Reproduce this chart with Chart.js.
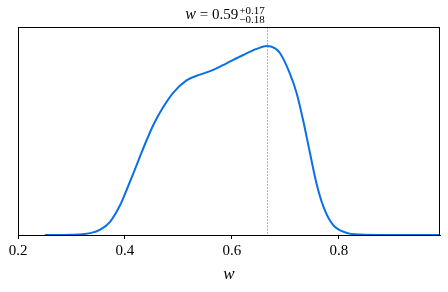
<!DOCTYPE html>
<html><head><meta charset="utf-8">
<script src="https://cdn.jsdelivr.net/npm/chart.js@4/dist/chart.umd.min.js"></script>
<style>html,body{margin:0;padding:0;background:#fff}#wrap{width:448px;height:292px}</style>
</head><body><div id="wrap"><canvas id="c" width="448" height="292"></canvas></div>
<script>
const wValues = [0.25, 0.28, 0.30, 0.32, 0.335, 0.353, 0.372, 0.391, 0.403, 0.416, 0.428, 0.441, 0.453, 0.469, 0.490, 0.515, 0.540, 0.565, 0.590, 0.621, 0.646, 0.665, 0.680, 0.690, 0.708, 0.721, 0.733, 0.746, 0.758, 0.771, 0.789, 0.814, 0.84, 0.88, 0.93, 0.989];
const density = [0, 0.0005, 0.0015, 0.004, 0.010, 0.027, 0.070, 0.159, 0.238, 0.328, 0.414, 0.505, 0.582, 0.665, 0.752, 0.818, 0.848, 0.873, 0.908, 0.952, 0.984, 1.0, 0.988, 0.961, 0.856, 0.750, 0.608, 0.432, 0.274, 0.150, 0.053, 0.012, 0.002, 0, 0, 0];
const xTicks = [0.2, 0.4, 0.6, 0.8];
const xRange = [0.2, 0.989];
const peakW = 0.665;
const titleMain = '0.59';
const titleUp = '+0.17';
const titleDown = '\u22120.18';
const xLabel = 'w';

const serif = "'Liberation Serif', 'DejaVu Serif', serif";

const framePlugin = {
  id: 'frame',
  afterDatasetsDraw(chart) {
    const {ctx, chartArea: a, scales: {x}} = chart;
    ctx.save();
    const px = Math.round(x.getPixelForValue(peakW)) + 0.5;
    ctx.strokeStyle = 'rgba(40,110,220,0.9)';
    ctx.lineWidth = 0.6;
    ctx.setLineDash([2, 1.2]);
    ctx.beginPath(); ctx.moveTo(px, a.top); ctx.lineTo(px, a.bottom); ctx.stroke();
    ctx.setLineDash([]);
    ctx.strokeStyle = '#000';
    ctx.lineWidth = 1;
    ctx.strokeRect(Math.round(a.left) + 0.5, Math.round(a.top) + 0.5, Math.round(a.right - a.left) - 1, Math.round(a.bottom - a.top));
    const cx = (a.left + a.right) / 2;
    const mainFontI = 'italic 16px ' + serif;
    const mainFont = '15px ' + serif;
    const smallFont = '11px ' + serif;
    ctx.fillStyle = '#000';
    ctx.textBaseline = 'alphabetic';
    ctx.font = mainFontI; const w1 = ctx.measureText('w').width;
    ctx.font = mainFont; const w2 = ctx.measureText(' = ' + titleMain).width;
    ctx.font = smallFont; const w3 = Math.max(ctx.measureText(titleUp).width, ctx.measureText(titleDown).width);
    const total = w1 + w2 + w3 + 1;
    let sx = cx - total / 2 - 4;
    const by = 19;
    ctx.textAlign = 'left';
    ctx.font = mainFontI; ctx.fillText('w', sx, by); sx += w1;
    ctx.font = mainFont; ctx.fillText(' = ' + titleMain, sx, by); sx += w2 + 1;
    ctx.font = smallFont;
    ctx.fillText(titleUp, sx, by - 5.5);
    ctx.fillText(titleDown, sx, by + 4);
    ctx.restore();
  }
};

new Chart(document.getElementById('c'), {
  type: 'line',
  data: {
    datasets: [{
      data: wValues.map((v, i) => ({x: v, y: density[i]})),
      borderColor: '#0a6fe8',
      borderWidth: 2,
      pointRadius: 0,
      fill: false,
      cubicInterpolationMode: 'monotone'
    }]
  },
  options: {
    responsive: false,
    animation: false,
    events: [],
    layout: {padding: {left: 18, right: 8, top: 27, bottom: 0}},
    plugins: {legend: {display: false}, tooltip: {enabled: false}, title: {display: false}},
    scales: {
      x: {
        type: 'linear',
        min: xRange[0], max: xRange[1],
        afterBuildTicks(s) { s.ticks = xTicks.map(v => ({value: v})); },
        afterFit(s) { s.height = 57; },
        grid: {display: true, drawOnChartArea: false, drawTicks: true, tickLength: 4, color: '#000', lineWidth: 1},
        border: {display: true, color: '#000', width: 1},
        ticks: {
          color: '#000', padding: 3,
          font: {family: serif, size: 15},
          maxRotation: 0, autoSkip: false,
          callback: (v) => v.toFixed(1)
        },
        title: {
          display: true, text: xLabel, color: '#000',
          font: {family: serif, size: 17, style: 'italic'},
          padding: {top: 0, bottom: 7}
        }
      },
      y: {display: false, min: 0, max: 1.1}
    }
  },
  plugins: [framePlugin]
});
</script>
</body></html>
